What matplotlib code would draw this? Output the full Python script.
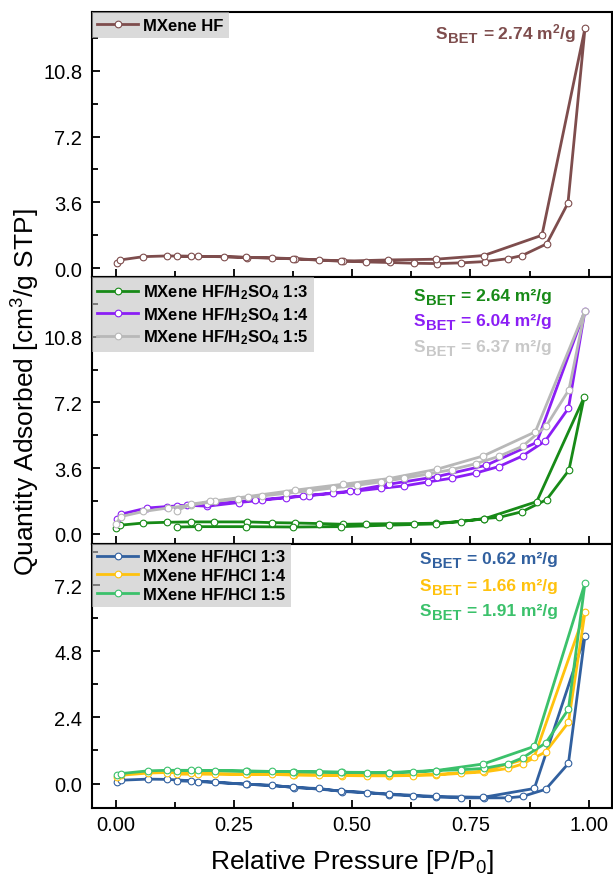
import numpy as np
import matplotlib
matplotlib.use("Agg")
import matplotlib.pyplot as plt
from matplotlib.ticker import MultipleLocator, FormatStrFormatter

plt.rcParams['font.family'] = ['Liberation Sans', 'DejaVu Sans']
plt.rcParams['mathtext.default'] = 'regular'

# ---------------- N2 isotherms: relative pressure / quantity adsorbed ----------------
# MXene HF
hf_p_ads = [0.003, 0.010, 0.059, 0.109, 0.160, 0.230, 0.278, 0.330, 0.379, 0.430, 0.480,
            0.529, 0.579, 0.630, 0.680, 0.730, 0.780, 0.829, 0.859, 0.911, 0.956, 0.992]
hf_q_ads = [0.27, 0.45, 0.63, 0.67, 0.65, 0.63, 0.58, 0.56, 0.52, 0.45, 0.40,
            0.34, 0.31, 0.27, 0.25, 0.29, 0.36, 0.52, 0.69, 1.33, 3.56, 13.13]
hf_p_des = [0.992, 0.901, 0.778, 0.677, 0.575, 0.476, 0.376, 0.275, 0.174, 0.129]
hf_q_des = [13.13, 1.80, 0.69, 0.49, 0.45, 0.38, 0.51, 0.60, 0.65, 0.65]

# MXene HF/H2SO4 1:3
s13_p_ads = [0.001, 0.010, 0.059, 0.109, 0.160, 0.209, 0.278, 0.330, 0.379, 0.430, 0.480,
             0.529, 0.630, 0.677, 0.730, 0.778, 0.811, 0.859, 0.911, 0.958, 0.990]
s13_q_ads = [0.35, 0.48, 0.60, 0.64, 0.66, 0.66, 0.66, 0.62, 0.60, 0.57, 0.53,
             0.55, 0.57, 0.59, 0.68, 0.84, 0.91, 1.22, 1.88, 3.49, 7.47]
s13_p_des = [0.990, 0.890, 0.778, 0.677, 0.577, 0.476, 0.376, 0.275, 0.174, 0.129]
s13_q_des = [7.47, 1.77, 0.82, 0.55, 0.48, 0.40, 0.38, 0.40, 0.40, 0.38]

# MXene HF/H2SO4 1:4
s14_p_ads = [0.002, 0.011, 0.066, 0.109, 0.152, 0.194, 0.260, 0.309, 0.360, 0.409, 0.460,
             0.510, 0.560, 0.610, 0.661, 0.710, 0.762, 0.810, 0.860, 0.908, 0.957, 0.992]
s14_q_ads = [0.80, 1.08, 1.42, 1.50, 1.57, 1.52, 1.72, 1.85, 1.98, 2.10, 2.22,
             2.35, 2.50, 2.63, 2.85, 3.05, 3.34, 3.69, 4.27, 5.09, 6.88, 12.23]
s14_p_des = [0.992, 0.890, 0.783, 0.679, 0.577, 0.496, 0.396, 0.295, 0.194, 0.130]
s14_q_des = [12.23, 5.01, 3.76, 3.14, 2.72, 2.34, 2.08, 1.85, 1.62, 1.52]

# MXene HF/H2SO4 1:5
s15_p_ads = [0.001, 0.011, 0.059, 0.110, 0.159, 0.210, 0.259, 0.309, 0.360, 0.409, 0.459,
             0.510, 0.560, 0.610, 0.661, 0.710, 0.762, 0.810, 0.860, 0.910, 0.958, 0.992]
s15_q_ads = [0.53, 0.95, 1.23, 1.42, 1.58, 1.78, 1.93, 2.08, 2.22, 2.36, 2.52,
             2.66, 2.85, 3.05, 3.28, 3.52, 3.85, 4.25, 4.80, 5.91, 7.89, 12.23]
s15_p_des = [0.992, 0.887, 0.777, 0.679, 0.577, 0.480, 0.380, 0.280, 0.200, 0.159, 0.129]
s15_q_des = [12.23, 5.59, 4.27, 3.54, 3.03, 2.72, 2.40, 2.05, 1.78, 1.63, 1.26]

# MXene HF/HCl series (common pressure table)
hcl_p_ads = [0.004, 0.011, 0.068, 0.109, 0.159, 0.210, 0.277, 0.330, 0.378, 0.430, 0.479,
             0.531, 0.577, 0.629, 0.677, 0.730, 0.779, 0.830, 0.860, 0.909, 0.957, 0.992]
hcl_p_des = [0.992, 0.885, 0.777, 0.677, 0.577, 0.476, 0.376, 0.275, 0.175, 0.129]
c13_q_ads = [0.07, 0.12, 0.16, 0.15, 0.10, 0.05, -0.03, -0.06, -0.15, -0.18, -0.29,
             -0.33, -0.40, -0.45, -0.49, -0.52, -0.52, -0.52, -0.47, -0.21, 0.73, 5.37]
c13_q_des = [5.37, -0.18, -0.50, -0.47, -0.38, -0.27, -0.13, -0.02, 0.07, 0.10]
c14_q_ads = [0.22, 0.30, 0.38, 0.40, 0.38, 0.36, 0.34, 0.33, 0.31, 0.30, 0.29,
             0.28, 0.28, 0.29, 0.31, 0.37, 0.42, 0.55, 0.71, 1.15, 2.22, 6.22]
c14_q_des = [6.22, 0.98, 0.45, 0.33, 0.30, 0.31, 0.32, 0.33, 0.34, 0.34]
c15_q_ads = [0.30, 0.36, 0.46, 0.48, 0.48, 0.47, 0.45, 0.44, 0.43, 0.42, 0.41,
             0.39, 0.39, 0.42, 0.47, 0.50, 0.55, 0.72, 0.93, 1.47, 2.70, 7.28]
c15_q_des = [7.28, 1.35, 0.71, 0.47, 0.40, 0.41, 0.43, 0.45, 0.48, 0.47]

labels_top = ['MXene HF']
labels_mid = ['MXene HF/H$_2$SO$_4$ 1:3', 'MXene HF/H$_2$SO$_4$ 1:4', 'MXene HF/H$_2$SO$_4$ 1:5']
labels_bot = ['MXene HF/HCl 1:3', 'MXene HF/HCl 1:4', 'MXene HF/HCl 1:5']
sbet_top = ['2.74 m$^2$/g']
sbet_mid = ['2.64 m\u00b2/g', '6.04 m\u00b2/g', '6.37 m\u00b2/g']
sbet_bot = ['0.62 m\u00b2/g', '1.66 m\u00b2/g', '1.91 m\u00b2/g']

c_brown = '#7e4d4d'
c_green = '#178a17'
c_purple = '#8b1ef5'
c_gray = '#b8b8b8'
c_blue = '#31609f'
c_yellow = '#ffc20e'
c_green2 = '#3bc16b'

# ---------------- figure layout (pixel based) ----------------
W, H = 613, 878
fig = plt.figure(figsize=(W / 100, H / 100), dpi=100)
L, R = 91.9, 611.5


def add_panel(top, bottom):
    return fig.add_axes([L / W, 1 - bottom / H, (R - L) / W, (bottom - top) / H])


ax1 = add_panel(13.3, 278.3)
ax2 = add_panel(278.3, 545.0)
ax3 = add_panel(545.0, 809.3)


def isotherm(ax, p_ads, q_ads, p_des, q_des, color, label):
    p = list(p_ads) + list(p_des[1:])
    q = list(q_ads) + list(q_des[1:])
    ax.plot(p, q, '-', color=color, lw=2.0, marker='o', ms=4.8,
            mfc='white', mec=color, mew=0.8, label=label, zorder=3)


isotherm(ax1, hf_p_ads, hf_q_ads, hf_p_des, hf_q_des, c_brown, labels_top[0])

isotherm(ax2, s13_p_ads, s13_q_ads, s13_p_des, s13_q_des, c_green, labels_mid[0])
isotherm(ax2, s14_p_ads, s14_q_ads, s14_p_des, s14_q_des, c_purple, labels_mid[1])
isotherm(ax2, s15_p_ads, s15_q_ads, s15_p_des, s15_q_des, c_gray, labels_mid[2])

isotherm(ax3, hcl_p_ads, c13_q_ads, hcl_p_des, c13_q_des, c_blue, labels_bot[0])
isotherm(ax3, hcl_p_ads, c14_q_ads, hcl_p_des, c14_q_des, c_yellow, labels_bot[1])
isotherm(ax3, hcl_p_ads, c15_q_ads, hcl_p_des, c15_q_des, c_green2, labels_bot[2])

# ---------------- axes styling ----------------
for ax in (ax1, ax2, ax3):
    ax.set_xlim(-0.05, 1.048)
    ax.xaxis.set_major_locator(MultipleLocator(0.25))
    ax.xaxis.set_minor_locator(MultipleLocator(0.125))
    ax.xaxis.set_major_formatter(FormatStrFormatter('%.2f'))
    ax.yaxis.set_major_formatter(FormatStrFormatter('%.1f'))
    for s in ax.spines.values():
        s.set_linewidth(1.5)
    ax.tick_params(which='major', direction='in', length=6, width=1.3,
                   labelsize=14.5, top=False, right=False)
    ax.tick_params(which='minor', direction='in', length=4, width=1.3,
                   top=False, right=False)
    ax.tick_params(axis='y', which='major', pad=7)
    ax.tick_params(axis='x', which='major', pad=5)

for ax in (ax1, ax2):
    ax.yaxis.set_major_locator(MultipleLocator(3.6))
    ax.yaxis.set_minor_locator(MultipleLocator(1.8))
    ax.tick_params(labelbottom=False)
ax1.set_ylim(-0.5, 14.0)
ax2.set_ylim(-0.55, 14.05)
ax3.set_ylim(-0.9, 8.7)
ax3.yaxis.set_major_locator(MultipleLocator(2.4))
ax3.yaxis.set_minor_locator(MultipleLocator(1.2))

# ---------------- legends ----------------
leg_kw = dict(loc='upper left', bbox_to_anchor=(0, 1), borderaxespad=0,
              borderpad=0.33, handlelength=2.45, handletextpad=0.3,
              prop=dict(family='Liberation Sans', weight='bold', size=12),
              frameon=True, fancybox=False, facecolor='#c2c2c2',
              edgecolor='none', framealpha=0.6, numpoints=1)
ax1.legend(labelspacing=0.2, **leg_kw)
ax2.legend(labelspacing=0.22, **leg_kw)
ax3.legend(labelspacing=0.21, **leg_kw)

# ---------------- axis titles ----------------
fig.text(351.7 / W, 1 - 869 / H, 'Relative Pressure [P/P$_0$]', fontsize=19,
         ha='center', va='baseline')
fig.text(26 / W, 1 - 392.5 / H, 'Quantity Adsorbed [cm$^3$/g STP]', fontsize=19,
         rotation=90, ha='center', va='center')

# ---------------- BET surface area notes ----------------
renderer = fig.canvas.get_renderer()


def sbet_note(x, y, value, color):
    kw = dict(color=color, fontweight='bold', ha='left', va='baseline')
    t1 = fig.text(x / W, 1 - y / H, 'S', fontsize=12.5, **kw)
    w1 = t1.get_window_extent(renderer).width
    t2 = fig.text((x + w1 + 0.8) / W, 1 - (y + 4) / H, 'BET', fontsize=10.6, **kw)
    w2 = t2.get_window_extent(renderer).width
    fig.text((x + w1 + w2 + 6.5) / W, 1 - y / H, '= ' + value, fontsize=12.5, **kw)


sbet_note(435.4, 39.3, sbet_top[0], c_brown)
sbet_note(413.3, 300.7, sbet_mid[0], c_green)
sbet_note(413.3, 325.7, sbet_mid[1], c_purple)
sbet_note(413.3, 351.7, sbet_mid[2], '#c8c8c8')
sbet_note(420.0, 564.0, sbet_bot[0], c_blue)
sbet_note(420.0, 590.7, sbet_bot[1], c_yellow)
sbet_note(420.0, 616.0, sbet_bot[2], c_green2)

fig.savefig('out.png', dpi=100)
